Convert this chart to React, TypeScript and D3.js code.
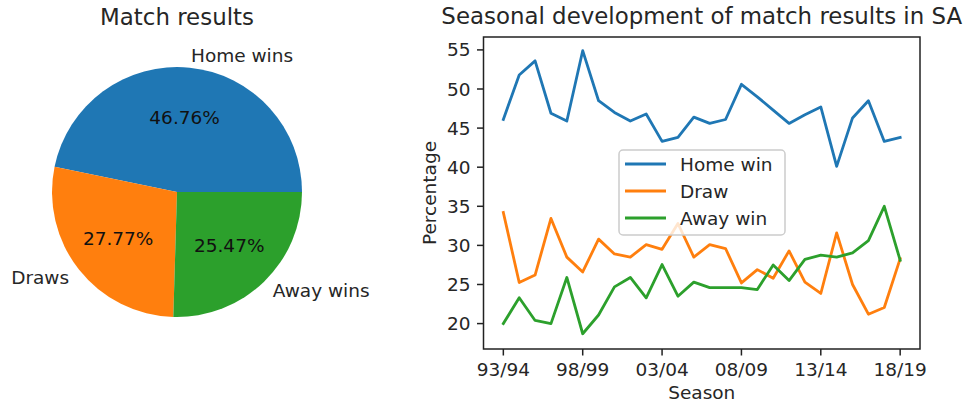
import React from 'react';
import * as d3 from 'd3';

// pie: overall share of results
const pieLabels = ['Home wins', 'Draws', 'Away wins'];
const pieValues = [46.76, 27.77, 25.47];

// seasonal series (percent of matches)
const seasons = [
  '93/94', '94/95', '95/96', '96/97', '97/98', '98/99', '99/00', '00/01', '01/02',
  '02/03', '03/04', '04/05', '05/06', '06/07', '07/08', '08/09', '09/10', '10/11',
  '11/12', '12/13', '13/14', '14/15', '15/16', '16/17', '17/18', '18/19',
];
const homeWin = [46.1, 51.8, 53.6, 46.9, 45.9, 54.9, 48.5, 47.0, 45.9, 46.8, 43.3, 43.8, 46.4,
  45.6, 46.1, 50.6, 49.0, 47.3, 45.6, 46.7, 47.7, 40.1, 46.3, 48.5, 43.3, 43.8];
const draw = [34.2, 25.25, 26.2, 33.45, 28.5, 26.6, 30.8, 28.9, 28.5, 30.1, 29.5, 32.8, 28.5,
  30.1, 29.6, 25.2, 26.9, 25.8, 29.3, 25.3, 23.85, 31.6, 25.0, 21.2, 22.05, 28.3];
const awayWin = [20.0, 23.3, 20.4, 20.0, 25.9, 18.7, 21.1, 24.7, 25.9, 23.3, 27.55, 23.5, 25.3,
  24.6, 24.6, 24.6, 24.35, 27.5, 25.5, 28.2, 28.75, 28.5, 29.05, 30.6, 35.0, 28.1];
const seriesNames = ['Home win', 'Draw', 'Away win'];
const yTicks = [20, 25, 30, 35, 40, 45, 50, 55];

const colors = ['#1f77b4', '#ff7f0e', '#2ca02c'];
const FONT = 'DejaVu Sans, sans-serif';
const FS = 18.5;
const TITLE_FS = 22.9;
const TEXT = '#262626';

function PieChart() {
  const cx = 177, cy = 192, r = 125;
  const pie = d3.pie<number>().sort(null).startAngle(Math.PI / 2).endAngle(Math.PI / 2 - 2 * Math.PI);
  const arcs = pie(pieValues);
  const arc = d3.arc<d3.PieArcDatum<number>>().innerRadius(0).outerRadius(r);
  return (
    <g>
      <text x={cx} y={25} textAnchor="middle" fontSize={TITLE_FS} fill={TEXT}>Match results</text>
      <g transform={`translate(${cx},${cy})`}>
        {arcs.map((a, i) => (
          <path key={i} d={arc(a) || ''} fill={colors[i]} />
        ))}
        {arcs.map((a, i) => {
          const mid = (a.startAngle + a.endAngle) / 2;
          const lx = 1.1 * r * Math.sin(mid);
          const ly = -1.1 * r * Math.cos(mid);
          const px = 0.6 * r * Math.sin(mid);
          const py = -0.6 * r * Math.cos(mid);
          return (
            <g key={i}>
              <text x={lx} y={ly} textAnchor={lx > 0 ? 'start' : 'end'} dominantBaseline="central"
                fontSize={FS} fill={TEXT}>{pieLabels[i]}</text>
              <text x={px} y={py} textAnchor="middle" dominantBaseline="central"
                fontSize={FS} fill="#111">{a.data.toFixed(2)}%</text>
            </g>
          );
        })}
      </g>
    </g>
  );
}

function LineChart() {
  const left = 483.5, right = 920, top = 37, bottom = 349;
  const x = d3.scaleLinear().domain([-1.25, seasons.length - 1 + 1.25]).range([left, right]);
  const y = d3.scaleLinear().domain([16.75, 56.65]).range([bottom, top]);
  const line = d3.line<number>().x((_, i) => x(i)).y(d => y(d));
  const data = [homeWin, draw, awayWin];
  const xTickIdx = seasons.map((_, i) => i).filter(i => i % 5 === 0);
  const lg = { x: 619, y: 150, w: 166, h: 85 };
  return (
    <g fontSize={FS} fill={TEXT}>
      <text x={(left + right) / 2} y={24} textAnchor="middle" fontSize={TITLE_FS}>
        Seasonal development of match results in SA
      </text>
      {data.map((s, i) => (
        <path key={i} d={line(s) || ''} fill="none" stroke={colors[i]} strokeWidth={2.8}
          strokeLinejoin="round" strokeLinecap="square" />
      ))}
      <rect x={left} y={top} width={right - left} height={bottom - top} fill="none" stroke="#222" strokeWidth={1.5} />
      {yTicks.map(t => (
        <g key={t}>
          <line x1={left - 6.5} x2={left} y1={y(t)} y2={y(t)} stroke="#222" strokeWidth={1.5} />
          <text x={left - 13} y={y(t)} textAnchor="end" dominantBaseline="central">{t}</text>
        </g>
      ))}
      {xTickIdx.map(i => (
        <g key={i}>
          <line x1={x(i)} x2={x(i)} y1={bottom} y2={bottom + 6.5} stroke="#222" strokeWidth={1.5} />
          <text x={x(i)} y={376} textAnchor="middle">{seasons[i]}</text>
        </g>
      ))}
      <text x={(left + right) / 2} y={399} textAnchor="middle">Season</text>
      <text transform={`translate(429,${(top + bottom) / 2}) rotate(-90)`} textAnchor="middle"
        dominantBaseline="central">Percentage</text>
      <g>
        <rect x={lg.x} y={lg.y} width={lg.w} height={lg.h} rx={4} fill="#fff" fillOpacity={0.8}
          stroke="#cccccc" strokeWidth={1.5} />
        {seriesNames.map((n, i) => {
          const ry = lg.y + 14 + i * 27;
          return (
            <g key={n}>
              <line x1={lg.x + 6} x2={lg.x + 47} y1={ry} y2={ry} stroke={colors[i]} strokeWidth={2.8} />
              <text x={lg.x + 61} y={ry} dominantBaseline="central">{n}</text>
            </g>
          );
        })}
      </g>
    </g>
  );
}

export default function App() {
  return (
    <svg width={966} height={405} style={{ position: 'absolute', left: 0, top: 0, background: '#fff' }}
      fontFamily={FONT}>
      <PieChart />
      <LineChart />
    </svg>
  );
}
